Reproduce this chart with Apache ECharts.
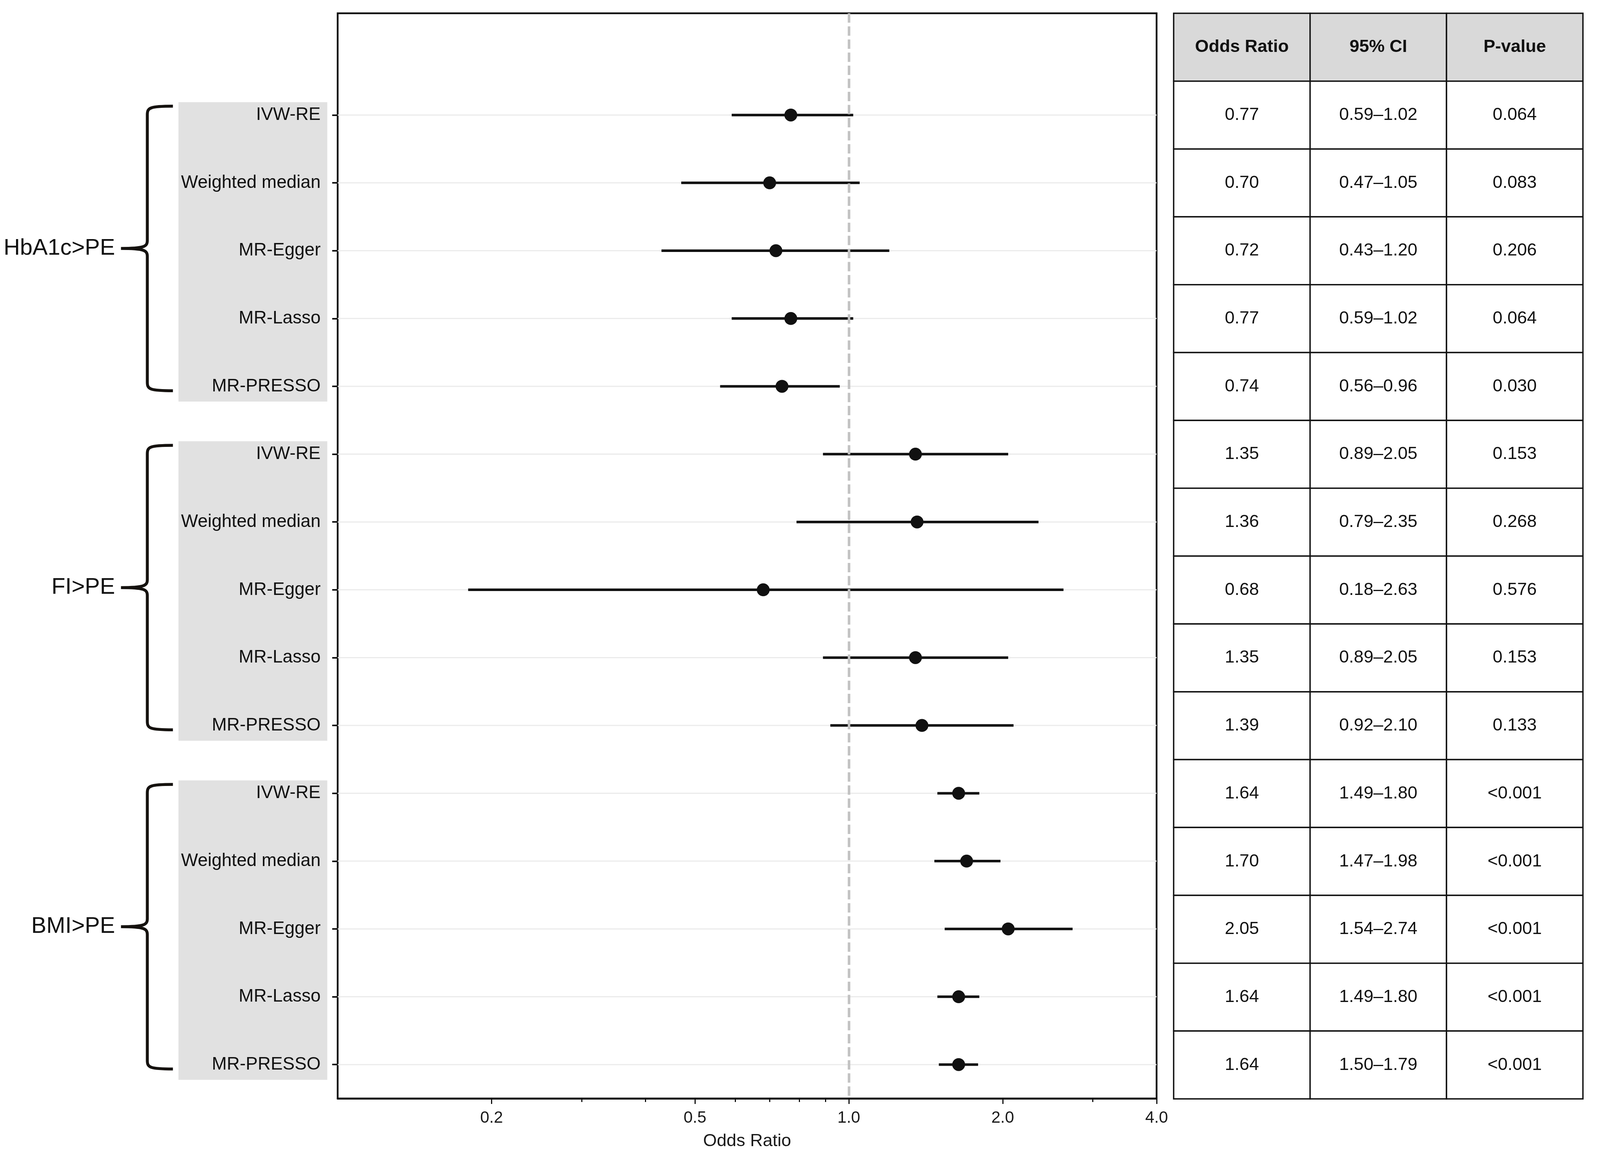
<!DOCTYPE html>
<html>
<head>
<meta charset="utf-8">
<script src="https://cdn.jsdelivr.net/npm/echarts@6/dist/echarts.min.js"></script>
<style>
html,body{margin:0;padding:0;background:#ffffff;overflow:hidden;}
#chart{width:100vw;height:100vh;}
</style>
</head>
<body>
<div id="chart"></div>
<script>
// ---------------- data ----------------
const groups = ['HbA1c>PE', 'FI>PE', 'BMI>PE'];
const methods = ['IVW-RE', 'Weighted median', 'MR-Egger', 'MR-Lasso', 'MR-PRESSO'];
const orValues = [0.77, 0.70, 0.72, 0.77, 0.74, 1.35, 1.36, 0.68, 1.35, 1.39, 1.64, 1.70, 2.05, 1.64, 1.64];
const ciLower  = [0.59, 0.47, 0.43, 0.59, 0.56, 0.89, 0.79, 0.18, 0.89, 0.92, 1.49, 1.47, 1.54, 1.49, 1.50];
const ciUpper  = [1.02, 1.05, 1.20, 1.02, 0.96, 2.05, 2.35, 2.63, 2.05, 2.10, 1.80, 1.98, 2.74, 1.80, 1.79];
const pValues  = ['0.064', '0.083', '0.206', '0.064', '0.030', '0.153', '0.268', '0.576', '0.153', '0.133',
                  '<0.001', '<0.001', '<0.001', '<0.001', '<0.001'];
const tableHeaders = ['Odds Ratio', '95% CI', 'P-value'];
const xMajorTicks = [0.2, 0.5, 1.0, 2.0, 4.0];
const xMinorTicks = [0.3, 0.4, 0.6, 0.7, 0.8, 0.9, 3.0];
const xRange = [0.1, 4.0];
const refValue = 1.0;

// ---------------- derived ----------------
const FONT = '"Liberation Sans", Arial, Helvetica, sans-serif';
const el = document.getElementById('chart');
const W = el.clientWidth || window.innerWidth;
const H = el.clientHeight || window.innerHeight;
const sx = W / 4312, sy = H / 2949;
const X = v => v * sx, Y = v => v * sy;

const rowLabels = [''];
groups.forEach(() => methods.forEach(m => rowLabels.push(m)));
const rowKeys = rowLabels.map((_, i) => 'r' + i);

const pointData = orValues.map((v, i) => [v, i + 1]);
const barData = orValues.map((v, i) => [v, ciLower[i], ciUpper[i], i + 1]);
const groupData = groups.map((g, gi) => [refValue, 1 + gi * methods.length, (gi + 1) * methods.length, gi]);
const cellData = [];
for (let r = 0; r < rowLabels.length; r++) {
  for (let c = 0; c < tableHeaders.length; c++) cellData.push([c, r]);
}

function cellText(c, r) {
  if (r === 0) return tableHeaders[c];
  const i = r - 1;
  if (c === 0) return orValues[i].toFixed(2);
  if (c === 1) return ciLower[i].toFixed(2) + '\u2013' + ciUpper[i].toFixed(2);
  return pValues[i];
}

function renderGridline(params, api) {
  const cs = params.coordSys;
  const y = api.coord([refValue, api.value(3)])[1];
  return {type: 'line', shape: {x1: cs.x, y1: y, x2: cs.x + cs.width, y2: y},
          style: {stroke: '#ebebeb', lineWidth: 3}};
}

function renderBar(params, api) {
  const r = api.value(3);
  const y = api.coord([refValue, r])[1];
  const xl = api.coord([api.value(1), r])[0];
  const xh = api.coord([api.value(2), r])[0];
  return {type: 'line', shape: {x1: xl, y1: y, x2: xh, y2: y},
          style: {stroke: '#111111', lineWidth: 6.5}};
}

function renderGroup(params, api) {
  const cs = params.coordSys;
  const gl = cs.x;
  const r1 = api.value(1), r2 = api.value(2);
  const y1 = api.coord([refValue, r1])[1];
  const y2 = api.coord([refValue, r2])[1];
  const slot = api.coord([refValue, r1 + 1])[1] - y1;
  const name = groups[api.value(3)];
  const boxL = gl - X(429), boxR = gl - X(28);
  const boxT = y1 - 0.19 * slot, boxB = y2 + 0.225 * slot;
  const xv = gl - X(513), xt = gl - X(444), xp = gl - X(584);
  const yt = y1 - 0.13 * slot, yb = y2 + 0.065 * slot, ym = (yt + yb) / 2;
  const rc = 22, rm = 20;
  const d = 'M' + xt + ' ' + yt +
    ' C' + (xv + 6) + ' ' + yt + ' ' + xv + ' ' + (yt + 4) + ' ' + xv + ' ' + (yt + rc) +
    ' L' + xv + ' ' + (ym - rm) +
    ' C' + xv + ' ' + (ym - 5) + ' ' + (xv - 8) + ' ' + ym + ' ' + xp + ' ' + ym +
    ' M' + xp + ' ' + ym +
    ' C' + (xv - 8) + ' ' + ym + ' ' + xv + ' ' + (ym + 5) + ' ' + xv + ' ' + (ym + rm) +
    ' L' + xv + ' ' + (yb - rc) +
    ' C' + xv + ' ' + (yb - 4) + ' ' + (xv + 6) + ' ' + yb + ' ' + xt + ' ' + yb;
  return {
    type: 'group',
    children: [
      {type: 'rect', shape: {x: boxL, y: boxT, width: boxR - boxL, height: boxB - boxT},
       style: {fill: '#e1e1e1'}, z2: 0},
      {type: 'path', shape: {d: d}, style: {fill: null, stroke: '#15120f', lineWidth: 7.5, lineCap: 'butt', lineJoin: 'round'}, z2: 1},
      {type: 'text', style: {text: name, x: gl - X(600), y: ym, align: 'right', verticalAlign: 'middle',
        fontSize: 58, fontFamily: FONT, fill: '#111111'}, z2: 2}
    ]
  };
}

function renderCell(params, api) {
  const c = api.value(0), r = api.value(1);
  const p = api.coord([c, r]);
  const s = api.size([1, 1], [c, r]);
  const header = r === 0;
  return {
    type: 'group',
    children: [
      {type: 'rect', shape: {x: p[0] - s[0] / 2, y: p[1] - s[1] / 2, width: s[0], height: s[1]},
       style: {fill: header ? '#d9d9d9' : '#ffffff', stroke: '#111111', lineWidth: 3.5}},
      {type: 'text', style: {text: cellText(c, r), x: p[0], y: p[1], align: 'center', verticalAlign: 'middle',
        fontSize: 45, fontWeight: header ? 'bold' : 'normal', fontFamily: FONT, fill: '#111111'}}
    ]
  };
}

const chart = echarts.init(el, null, {renderer: 'canvas', width: W, height: H});
chart.setOption({
  animation: false,
  backgroundColor: '#ffffff',
  textStyle: {fontFamily: FONT},
  grid: [
    {left: X(910), top: Y(34), width: X(2207), height: Y(2779), show: true,
     borderColor: '#111111', borderWidth: 4.5, backgroundColor: '#ffffff'},
    {left: X(3163), top: Y(34), width: X(1103), height: Y(2779)}
  ],
  xAxis: [
    {type: 'log', gridIndex: 0, min: xRange[0], max: xRange[1], logBase: 10, position: 'bottom', z: 5,
     axisLine: {show: true, lineStyle: {color: '#111111', width: 4.5}},
     axisTick: {show: true, customValues: xMajorTicks, length: 14, lineStyle: {color: '#111111', width: 3}},
     axisLabel: {show: true, customValues: xMajorTicks, formatter: v => Number(v).toFixed(1),
                 fontSize: 42, color: '#1a1a1a', margin: 29},
     splitLine: {show: false}, minorTick: {show: false}, minorSplitLine: {show: false},
     name: 'Odds Ratio', nameLocation: 'middle', nameGap: 87,
     nameTextStyle: {fontSize: 45, color: '#1a1a1a'}},
    {type: 'log', gridIndex: 0, min: xRange[0], max: xRange[1], logBase: 10, position: 'bottom', z: 5,
     axisLine: {show: false},
     axisTick: {show: true, customValues: xMinorTicks, length: 9, lineStyle: {color: '#111111', width: 3}},
     axisLabel: {show: false}, splitLine: {show: false}},
    {type: 'category', gridIndex: 1, data: tableHeaders, show: false}
  ],
  yAxis: [
    {type: 'category', gridIndex: 0, inverse: true, data: rowKeys, z: 5,
     axisLine: {show: false},
     axisTick: {show: true, alignWithLabel: true, interval: (i) => i > 0, length: 14,
                lineStyle: {color: '#111111', width: 4}},
     axisLabel: {interval: 0, formatter: v => rowLabels[+String(v).slice(1)],
                 fontSize: 46, color: '#111111', margin: X(46)},
     splitLine: {show: false}},
    {type: 'category', gridIndex: 1, inverse: true, data: rowKeys, show: false}
  ],
  series: [
    {type: 'custom', name: 'gridlines', xAxisIndex: 0, yAxisIndex: 0, z: 1,
     encode: {x: [0, 1, 2], y: 3}, data: barData, renderItem: renderGridline, silent: true},
    {type: 'line', name: 'ref', xAxisIndex: 0, yAxisIndex: 0, z: 2, data: [], silent: true,
     markLine: {silent: true, symbol: ['none', 'none'], label: {show: false},
                lineStyle: {color: '#c2c2c2', width: 6.5, type: [24, 9.5]},
                data: [{xAxis: refValue}]}},
    {type: 'custom', name: 'ci', xAxisIndex: 0, yAxisIndex: 0, z: 3,
     encode: {x: [0, 1, 2], y: 3}, data: barData, renderItem: renderBar, silent: true},
    {type: 'scatter', name: 'or', xAxisIndex: 0, yAxisIndex: 0, z: 4,
     data: pointData, symbol: 'circle', symbolSize: 33,
     itemStyle: {color: '#111111', opacity: 1}, silent: true},
    {type: 'custom', name: 'groups', xAxisIndex: 0, yAxisIndex: 0, z: 0, clip: false,
     encode: {x: 0, y: [1, 2]}, data: groupData, renderItem: renderGroup, silent: true},
    {type: 'custom', name: 'table', xAxisIndex: 2, yAxisIndex: 1, z: 2, clip: false,
     encode: {x: 0, y: 1}, data: cellData, renderItem: renderCell, silent: true}
  ]
});
</script>
</body>
</html>
